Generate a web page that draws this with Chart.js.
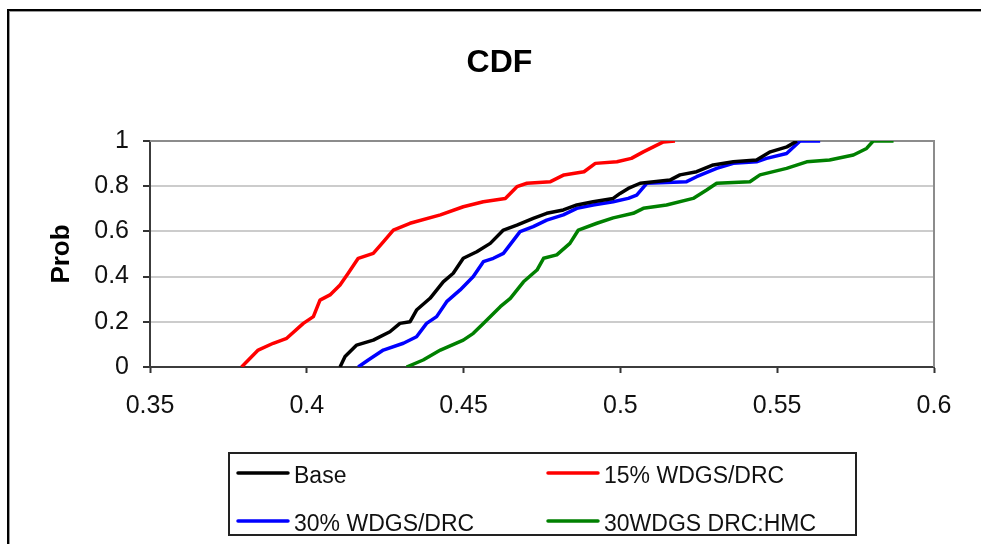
<!DOCTYPE html>
<html>
<head>
<meta charset="utf-8">
<script src="https://cdn.jsdelivr.net/npm/chart.js@4/dist/chart.umd.min.js"></script>
<style>
  html, body { margin: 0; padding: 0; background: #fff; }
  canvas { display: block; }
</style>
</head>
<body>
<canvas id="c" width="981" height="544"></canvas>
<script>
// ---- data ----
const titleText = 'CDF';
const yAxisTitle = 'Prob';
const seriesNames = ['Base', '15% WDGS/DRC', '30% WDGS/DRC', '30WDGS DRC:HMC'];
const seriesColors = ['#000000', '#ff0000', '#0000ff', '#008000'];

const xTicks = [0.35, 0.4, 0.45, 0.5, 0.55, 0.6];
const xTickLabels = ['0.35', '0.4', '0.45', '0.5', '0.55', '0.6'];
const yTicks = [0, 0.2, 0.4, 0.6, 0.8, 1];
const yTickLabels = ['0', '0.2', '0.4', '0.6', '0.8', '1'];

const baseX = [0.4106, 0.4122, 0.4159, 0.4212, 0.4265, 0.4297, 0.4329, 0.4350, 0.4393, 0.4435, 0.4467, 0.4499, 0.4542, 0.4585, 0.4627, 0.4670, 0.4722, 0.4765, 0.4818, 0.4861, 0.4913, 0.4977, 0.4999, 0.5025, 0.5063, 0.5158, 0.5190, 0.5243, 0.5296, 0.5360, 0.5434, 0.5478, 0.5531, 0.5563];
const baseY = [0, 0.046, 0.097, 0.119, 0.156, 0.193, 0.200, 0.252, 0.304, 0.377, 0.415, 0.481, 0.510, 0.547, 0.606, 0.628, 0.658, 0.680, 0.695, 0.717, 0.731, 0.746, 0.768, 0.790, 0.813, 0.827, 0.850, 0.864, 0.894, 0.908, 0.916, 0.952, 0.974, 1.0];

const w15X = [0.3792, 0.3845, 0.3893, 0.3936, 0.3989, 0.4021, 0.4042, 0.4074, 0.4106, 0.4132, 0.4164, 0.4212, 0.4244, 0.4276, 0.4329, 0.4426, 0.4499, 0.4563, 0.4633, 0.4670, 0.4702, 0.4777, 0.4820, 0.4884, 0.4920, 0.4989, 0.5035, 0.5073, 0.5105, 0.5137, 0.5174];
const w15Y = [0, 0.075, 0.105, 0.127, 0.193, 0.223, 0.296, 0.319, 0.363, 0.415, 0.481, 0.503, 0.554, 0.606, 0.636, 0.673, 0.709, 0.731, 0.746, 0.798, 0.813, 0.820, 0.850, 0.864, 0.901, 0.908, 0.923, 0.952, 0.974, 0.996, 1.0];

const w30X = [0.4164, 0.4196, 0.4244, 0.4308, 0.4350, 0.4382, 0.4414, 0.4446, 0.4489, 0.4531, 0.4563, 0.4595, 0.4627, 0.4680, 0.4722, 0.4765, 0.4818, 0.4861, 0.4913, 0.4977, 0.5025, 0.5052, 0.5084, 0.5211, 0.5243, 0.5307, 0.5360, 0.5434, 0.5466, 0.5530, 0.5573, 0.5637];
const w30Y = [0, 0.031, 0.075, 0.105, 0.134, 0.193, 0.223, 0.289, 0.341, 0.400, 0.466, 0.481, 0.503, 0.599, 0.621, 0.650, 0.673, 0.702, 0.717, 0.731, 0.746, 0.761, 0.813, 0.820, 0.842, 0.879, 0.901, 0.908, 0.923, 0.945, 1.0, 1.0];

const hmcX = [0.4318, 0.4371, 0.4426, 0.4499, 0.4531, 0.4563, 0.4617, 0.4649, 0.4691, 0.4734, 0.4755, 0.4797, 0.4839, 0.4866, 0.4925, 0.4977, 0.5041, 0.5073, 0.5147, 0.5232, 0.5275, 0.5307, 0.5413, 0.5445, 0.5530, 0.5594, 0.5667, 0.5743, 0.5785, 0.5806, 0.5871];
const hmcY = [0, 0.031, 0.075, 0.119, 0.149, 0.193, 0.267, 0.304, 0.377, 0.429, 0.481, 0.496, 0.547, 0.606, 0.636, 0.660, 0.680, 0.702, 0.717, 0.746, 0.783, 0.813, 0.820, 0.850, 0.879, 0.908, 0.916, 0.938, 0.967, 1.0, 1.0];

const seriesX = [baseX, w15X, w30X, hmcX];
const seriesY = [baseY, w15Y, w30Y, hmcY];

// ---- chart ----
const FONT = '"Liberation Sans", Arial, sans-serif';

const datasets = seriesNames.map((name, i) => ({
  label: name,
  data: seriesX[i].map((x, j) => ({ x: x, y: seriesY[i][j] })),
  borderColor: seriesColors[i],
  backgroundColor: seriesColors[i],
  borderWidth: 3.5,
  borderJoinStyle: 'round',
  pointRadius: 0,
  fill: false,
  tension: 0
}));

const decor = {
  id: 'decor',
  beforeDraw(chart) {
    const ctx = chart.ctx;
    ctx.save();
    ctx.fillStyle = '#ffffff';
    ctx.fillRect(0, 0, chart.width, chart.height);
    // outer chart frame (extends past the right and bottom of the picture)
    ctx.fillStyle = '#000';
    ctx.fillRect(7, 9, chart.width, 2);
    ctx.fillRect(7, 9, 2, chart.height);
    ctx.fillStyle = '#9a9a9a';
    ctx.fillRect(9, 11, chart.width, 1);
    ctx.fillRect(9, 11, 1, chart.height);
    ctx.restore();
  },
  beforeDatasetsDraw(chart) {
    const ctx = chart.ctx, a = chart.chartArea;
    ctx.save();
    ctx.strokeStyle = '#8c8c8c';
    ctx.lineWidth = 2;
    ctx.beginPath();
    ctx.moveTo(a.left, a.top);
    ctx.lineTo(a.right, a.top);
    ctx.lineTo(a.right, a.bottom);
    ctx.stroke();
    ctx.restore();
  },
  afterDraw(chart) {
    const ctx = chart.ctx;
    ctx.save();
    // title
    ctx.fillStyle = '#000';
    ctx.font = 'bold 32px ' + FONT;
    ctx.textAlign = 'center';
    ctx.textBaseline = 'alphabetic';
    ctx.fillText(titleText, 499.5, 72);
    // legend
    const box = { l: 229, t: 453, r: 856, b: 535 };
    ctx.strokeStyle = '#222';
    ctx.lineWidth = 2;
    ctx.strokeRect(box.l, box.t, box.r - box.l, box.b - box.t);
    const colX = [238, 548];
    const rowY = [473, 521];
    ctx.font = '23px ' + FONT;
    ctx.textAlign = 'left';
    chart.data.datasets.forEach((ds, i) => {
      const x0 = colX[i % 2], y0 = rowY[Math.floor(i / 2)];
      ctx.strokeStyle = ds.borderColor;
      ctx.lineWidth = 3.5;
      ctx.lineCap = 'round';
      ctx.beginPath();
      ctx.moveTo(x0, y0);
      ctx.lineTo(x0 + 50, y0);
      ctx.stroke();
      ctx.fillStyle = '#111';
      ctx.fillText(ds.label, x0 + 56, y0 + 9.5);
    });
    ctx.restore();
  }
};

new Chart(document.getElementById('c'), {
  type: 'line',
  data: { datasets: datasets },
  plugins: [decor],
  options: {
    responsive: false,
    animation: false,
    devicePixelRatio: 1,
    layout: { padding: { left: 0, right: 47, top: 141, bottom: 117 } },
    plugins: {
      legend: { display: false },
      title: { display: false },
      tooltip: { enabled: false }
    },
    scales: {
      x: {
        type: 'linear',
        min: 0.35,
        max: 0.6,
        afterBuildTicks(scale) { scale.ticks = xTicks.map(v => ({ value: v })); },
        afterFit(scale) { scale.height = 60; },
        ticks: {
          autoSkip: false,
          maxRotation: 0,
          padding: 18,
          color: '#111',
          font: { family: FONT, size: 25 },
          callback: (v, i) => xTickLabels[i]
        },
        grid: { drawOnChartArea: false, drawTicks: true, tickLength: 6, tickColor: '#333', tickWidth: 2 },
        border: { color: '#3c3c3c', width: 2 }
      },
      y: {
        type: 'linear',
        min: 0,
        max: 1,
        afterBuildTicks(scale) { scale.ticks = yTicks.map(v => ({ value: v })); },
        afterFit(scale) { scale.width = 150; },
        ticks: {
          autoSkip: false,
          padding: 14,
          color: '#111',
          font: { family: FONT, size: 25 },
          callback: (v, i) => yTickLabels[i]
        },
        grid: { color: '#cccccc', lineWidth: 2, drawTicks: true, tickLength: 7, tickColor: '#333', tickWidth: 2 },
        border: { color: '#3c3c3c', width: 2 },
        title: {
          display: true,
          text: yAxisTitle,
          color: '#000',
          font: { family: FONT, size: 26, weight: 'bold' },
          padding: { top: 46, bottom: 0 }
        }
      }
    }
  }
});
</script>
</body>
</html>
